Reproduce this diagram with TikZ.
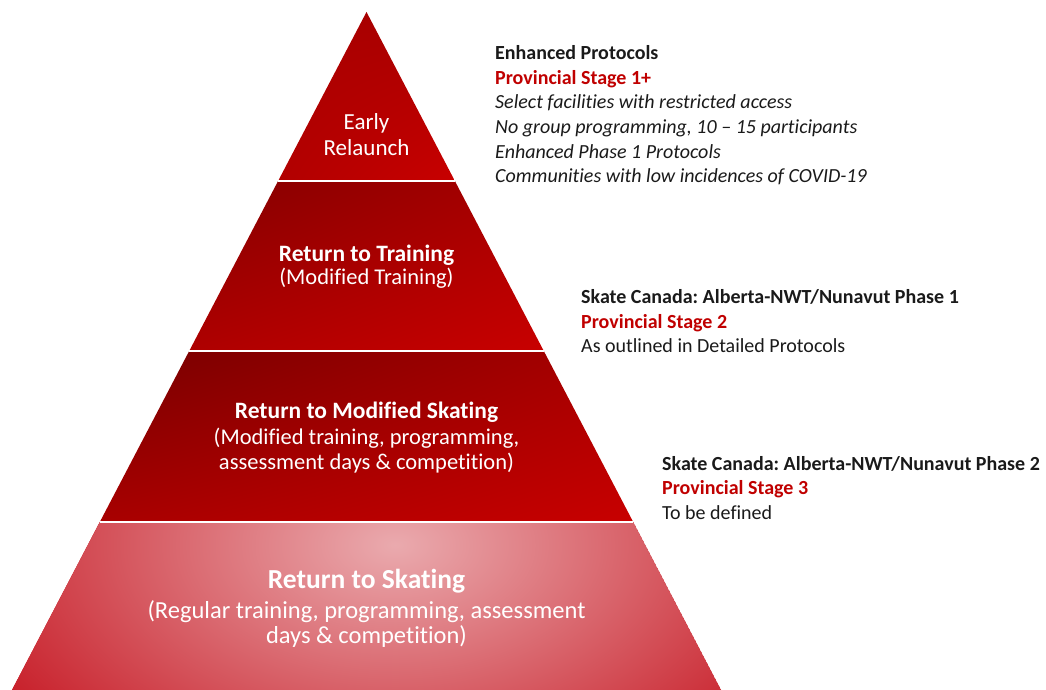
\documentclass[tikz,border=0pt]{standalone}
\usepackage{fontspec}
\setmainfont[RawFeature={-liga;-clig;-calt;-dlig}]{Carlito}
\usetikzlibrary{shadings}
\frenchspacing
\definecolor{txtred}{HTML}{C00000}
\definecolor{txtblk}{HTML}{1A1A1A}
\definecolor{rdark}{HTML}{840000}
\definecolor{rmid}{HTML}{A80000}
\definecolor{rbright}{HTML}{C80000}
\definecolor{rpink}{HTML}{EAAAAE}
\definecolor{rbase}{HTML}{C0000C}
\tikzset{
  pyrtxt/.style={text=white, inner sep=0pt, anchor=base},
  sidetxt/.style={text=txtblk, inner sep=0pt, anchor=base west},
  sidered/.style={text=txtred, inner sep=0pt, anchor=base west, font=\fontsize{20}{24}\selectfont\bfseries},
  sep/.style={draw=white, line width=2.6pt}
}
\begin{document}
\begin{tikzpicture}[x=1pt,y=-1pt]
\useasboundingbox (0,0) rectangle (1046,690);
% pyramid corners
\coordinate (apex) at (366.5,12);
\coordinate (l1) at (278.1,181); \coordinate (r1) at (454.9,181);
\coordinate (l2) at (189.2,351); \coordinate (r2) at (543.8,351);
\coordinate (l3) at (99.8,522);  \coordinate (r3) at (633.2,522);
\coordinate (l4) at (12,690);    \coordinate (r4) at (721,690);
% layer 1
\shade[upper left=rmid, upper right=rmid, lower left=rmid!70!rbright, lower right=rbright]
  (apex) -- (r1) -- (l1) -- cycle;
% layer 2
\shade[upper left=rdark, upper right=rmid, lower left=rmid!80!rbright, lower right=rbright]
  (l1) -- (r1) -- (r2) -- (l2) -- cycle;
% layer 3
\shade[upper left=rdark!90!black, upper right=rmid, lower left=rmid, lower right=rbright]
  (l2) -- (r2) -- (r3) -- (l3) -- cycle;
% layer 4
\begin{scope}
  \clip (l3) -- (r3) -- (r4) -- (l4) -- cycle;
  \fill[rbase] (l3) -- (r3) -- (r4) -- (l4) -- cycle;
  \shade[inner color=rpink, outer color=rbase] (395,545) ellipse (560 and 340);
\end{scope}
% separators
\draw[sep] (l1) -- (r1);
\draw[sep] (l2) -- (r2);
\draw[sep] (l3) -- (r3);
% pyramid labels
\node[pyrtxt, font=\fontsize{23}{26}\selectfont] (t1a) at (366.5,129) {Early};
\node[pyrtxt, font=\fontsize{23}{26}\selectfont] (t1b) at (366.5,155) {Relaunch};
\node[pyrtxt, font=\fontsize{23.5}{26}\selectfont\bfseries] (t2a) at (366.5,261) {Return to Training};
\node[pyrtxt, font=\fontsize{22.5}{26}\selectfont] (t2b) at (366.5,284) {(Modified Training)};
\node[pyrtxt, font=\fontsize{23.5}{26}\selectfont\bfseries] (t3a) at (366.5,418) {Return to Modified Skating};
\node[pyrtxt, font=\fontsize{22.5}{26}\selectfont] (t3b) at (366.5,444) {(Modified training, programming,};
\node[pyrtxt, font=\fontsize{22.5}{26}\selectfont] (t3c) at (366.5,469) {assessment days \& competition)};
\node[pyrtxt, font=\fontsize{27.5}{30}\selectfont\bfseries] (t4a) at (366.5,588) {Return to Skating};
\node[pyrtxt, font=\fontsize{24.5}{28}\selectfont] (t4b) at (366.5,618) {(Regular training, programming, assessment};
\node[pyrtxt, font=\fontsize{24.5}{28}\selectfont] (t4c) at (366.5,643) {days \& competition)};
% side block 1
\node[sidetxt, font=\fontsize{20}{24}\selectfont\bfseries] (s1a) at (495,60) {Enhanced Protocols};
\node[sidered] (s1b) at (495,84.5) {Provincial Stage 1+};
\node[sidetxt, font=\fontsize{20}{24}\selectfont\itshape] (s1c) at (495,109) {Select facilities with restricted access};
\node[sidetxt, font=\fontsize{20}{24}\selectfont\itshape] (s1d) at (495,133.5) {No group programming, 10 -- 15 participants};
\node[sidetxt, font=\fontsize{20}{24}\selectfont\itshape] (s1e) at (495,158) {Enhanced Phase 1 Protocols};
\node[sidetxt, font=\fontsize{20}{24}\selectfont\itshape] (s1f) at (495,182.5) {Communities with low incidences of COVID-19};
% side block 2
\node[sidetxt, font=\fontsize{20}{24}\selectfont\bfseries] (s2a) at (581,303.5) {Skate Canada: Alberta-NWT/Nunavut Phase 1};
\node[sidered] (s2b) at (581,328) {Provincial Stage 2};
\node[sidetxt, font=\fontsize{20}{24}\selectfont] (s2c) at (581,352.5) {As outlined in Detailed Protocols};
% side block 3
\node[sidetxt, font=\fontsize{20}{24}\selectfont\bfseries] (s3a) at (662,470) {Skate Canada: Alberta-NWT/Nunavut Phase 2};
\node[sidered] (s3b) at (662,494.5) {Provincial Stage 3};
\node[sidetxt, font=\fontsize{20}{24}\selectfont] (s3c) at (662,519) {To be defined};
\end{tikzpicture}
\end{document}
